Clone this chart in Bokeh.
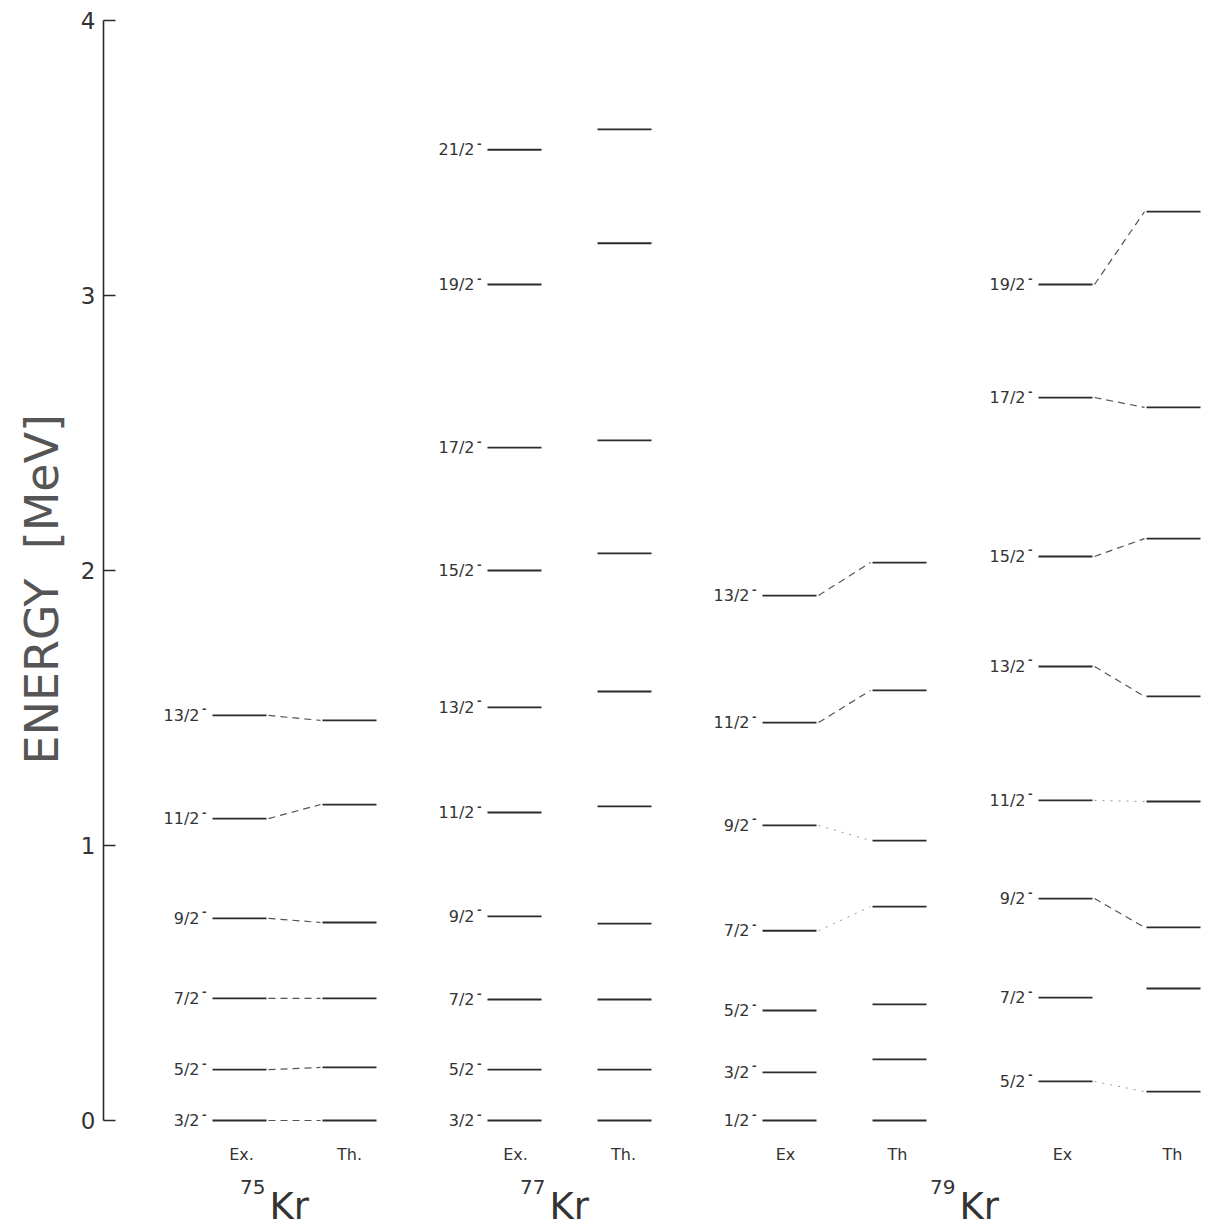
import math
from bokeh.plotting import figure
from bokeh.models import Range1d, LinearAxis, FixedTicker, Title, ColumnDataSource
from bokeh.core.properties import value
from bokeh.embed import file_html
from bokeh.resources import INLINE

# ---------------- data (MeV) ----------------
tick_values = [0, 1, 2, 3, 4]

kr75_spins = ["3/2", "5/2", "7/2", "9/2", "11/2", "13/2"]
kr75_ex = [0.000, 0.185, 0.444, 0.735, 1.098, 1.473]
kr75_th = [0.000, 0.193, 0.444, 0.720, 1.149, 1.455]
kr75_link = [2, 2, 2, 2, 2, 2]          # 2 = clear link, 1 = faint link, 0 = none

kr77_spins = ["3/2", "5/2", "7/2", "9/2", "11/2", "13/2", "15/2", "17/2", "19/2", "21/2"]
kr77_ex = [0.000, 0.185, 0.440, 0.742, 1.120, 1.502, 2.000, 2.447, 3.040, 3.530]
kr77_th = [0.000, 0.185, 0.440, 0.716, 1.142, 1.560, 2.062, 2.473, 3.190, 3.604]
kr77_link = [0, 0, 0, 0, 0, 0, 0, 0, 0, 0]

kr79a_spins = ["1/2", "3/2", "5/2", "7/2", "9/2", "11/2", "13/2"]
kr79a_ex = [0.000, 0.175, 0.400, 0.690, 1.073, 1.447, 1.909]
kr79a_th = [0.000, 0.222, 0.422, 0.778, 1.018, 1.564, 2.029]
kr79a_link = [0, 0, 0, 1, 1, 2, 2]

kr79b_spins = ["5/2", "7/2", "9/2", "11/2", "13/2", "15/2", "17/2", "19/2"]
kr79b_ex = [0.142, 0.447, 0.807, 1.164, 1.651, 2.051, 2.629, 3.040]
kr79b_th = [0.105, 0.480, 0.702, 1.160, 1.542, 2.116, 2.593, 3.305]
kr79b_link = [1, 0, 2, 1, 2, 2, 2, 2]

nuclei = ["75", "77", "79"]
column_labels = [("Ex.", "Th."), ("Ex.", "Th."), ("Ex", "Th"), ("Ex", "Th")]
parity = "-"

# ---------------- layout ----------------
W, H = 1213, 1228
LEFT = 103
PX_PER_MEV = 275.0
ZERO_PX = 1120.0


def to_e(py):
    return (ZERO_PX - py) / PX_PER_MEV


p = figure(width=W, height=H, output_backend="svg", toolbar_location=None,
           x_range=Range1d(LEFT, W), y_range=Range1d(to_e(H), to_e(0)),
           x_axis_type=None, y_axis_type=None,
           min_border_left=LEFT, min_border_right=0, min_border_top=0, min_border_bottom=0)
p.outline_line_color = None
p.background_fill_color = "white"
p.border_fill_color = "white"

INK = "#2b2b2b"
TXT = "#333333"
FONT = "DejaVu Sans"

yax = LinearAxis(ticker=FixedTicker(ticks=tick_values), bounds=(0, 4),
                 major_tick_in=12, major_tick_out=0, minor_tick_in=0, minor_tick_out=0,
                 axis_line_color=INK, axis_line_width=1.6,
                 major_tick_line_color=INK, major_tick_line_width=1.6,
                 major_label_text_font_size="23px", major_label_text_color=TXT,
                 major_label_text_font=FONT, major_label_standoff=8)
p.add_layout(yax, "left")

p.add_layout(Title(text="ENERGY\u00a0\u00a0[MeV]", align="left", offset=H - 764, standoff=18,
                   text_font_size="46px", text_color="#555555", text_font=FONT,
                   text_font_style="normal"), "left")

LW = 54
groups = [
    (kr75_spins, kr75_ex, kr75_th, kr75_link, 212, 322, 206),
    (kr77_spins, kr77_ex, kr77_th, kr77_link, 487, 597, 481),
    (kr79a_spins, kr79a_ex, kr79a_th, kr79a_link, 762, 872, 756),
    (kr79b_spins, kr79b_ex, kr79b_th, kr79b_link, 1038, 1146, 1032),
]
col_centers = [(241, 349), (515, 623), (785, 897), (1062, 1172)]

for gi, (spins, ex, th, link, ex_x, th_x, lab_x) in enumerate(groups):
    n = len(spins)
    src = ColumnDataSource(dict(
        ex=ex, th=th, spin=spins, par=[parity] * n,
        ex0=[ex_x] * n, ex1=[ex_x + LW] * n, th0=[th_x] * n, th1=[th_x + LW] * n,
        lx=[lab_x - 7] * n, px=[lab_x] * n))
    p.segment(x0="ex0", x1="ex1", y0="ex", y1="ex", source=src, line_color=INK, line_width=1.8)
    p.segment(x0="th0", x1="th1", y0="th", y1="th", source=src, line_color=INK, line_width=1.8)
    p.text(x="lx", y="ex", text="spin", source=src, text_align="right", text_baseline="middle",
           text_font=value(FONT), text_font_size="16px", text_color=TXT)
    p.text(x="px", y="ex", text="par", source=src, text_align="right", text_baseline="middle",
           y_offset=-7, text_font=value(FONT), text_font_size="11px", text_color=TXT,
           text_font_style="bold")
    for kind, dash, col, wid in [(2, "7 5", "#555555", 1.2), (1, "2 6", "#9a9a9a", 1.0)]:
        idx = [i for i in range(n) if link[i] == kind]
        if idx:
            p.segment(x0=[ex_x + LW + 2] * len(idx), x1=[th_x - 2] * len(idx),
                      y0=[ex[i] for i in idx], y1=[th[i] for i in idx],
                      line_color=col, line_width=wid, line_dash=dash)
    ce, ct = col_centers[gi]
    p.text(x=[ce, ct], y=[to_e(1154)] * 2, text=list(column_labels[gi]),
           text_align="center", text_baseline="middle", text_font=value(FONT),
           text_font_size="16px", text_color=TXT)

nuc_x = [265, 545, 955]
p.text(x=nuc_x, y=[to_e(1186)] * 3, text=nuclei, text_align="right", text_baseline="middle",
       text_font=value(FONT), text_font_size="20px", text_color=TXT)
p.text(x=[x + 4 for x in nuc_x], y=[to_e(1206)] * 3, text=["Kr"] * 3, text_align="left",
       text_baseline="middle", text_font=value(FONT), text_font_size="37px", text_color=TXT)

open("out.html", "w").write(file_html(p, INLINE))
